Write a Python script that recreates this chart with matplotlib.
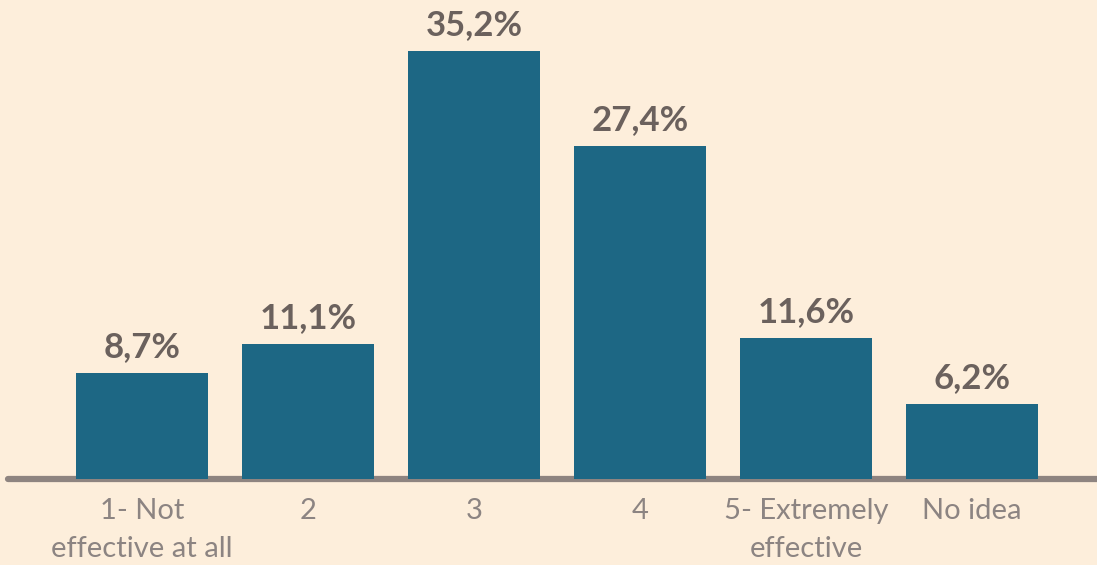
import matplotlib
matplotlib.use("Agg")
import matplotlib.pyplot as plt

categories = ["1- Not\neffective at all", "2", "3", "4",
              "5- Extremely\neffective", "No idea"]
shares = [8.7, 11.1, 35.2, 27.4, 11.6, 6.2]

bg = "#FDEEDB"
bar_color = "#1D6784"
value_color = "#6B615D"
tick_color = "#8C8482"

plt.rcParams["font.family"] = ["Lato", "DejaVu Sans"]

fig = plt.figure(figsize=(10.97, 5.65), dpi=100, facecolor=bg)
ax = fig.add_axes([8 / 1097, 86 / 565, 1 - 8 / 1097, 479 / 565])
ax.set_facecolor(bg)

x = range(len(categories))
bars = ax.bar(x, shares, width=0.8, color=bar_color, zorder=3)
# baseline under the bars (not clipped at the axes edge)
ax.axhline(0, color="#8E8480", linewidth=4.5, zorder=2,
           solid_capstyle="round", clip_on=False)

for rect, v in zip(bars, shares):
    ax.annotate(f"{v:.1f}%".replace(".", ","),
                (rect.get_x() + rect.get_width() / 2, v),
                xytext=(0, 7), textcoords="offset points",
                ha="center", va="bottom", fontsize=25, fontweight="bold",
                color=value_color)

ax.set_xlim(-0.807, 5.753)
ax.set_ylim(0, 39.4)
ax.set_xticks(list(x))
ax.set_xticklabels(categories, fontsize=21, color=tick_color, linespacing=1.55)
ax.tick_params(axis="x", length=0, pad=14)
ax.set_yticks([])
for s in ax.spines.values():
    s.set_visible(False)

fig.savefig("out.png", dpi=100, facecolor=bg)
